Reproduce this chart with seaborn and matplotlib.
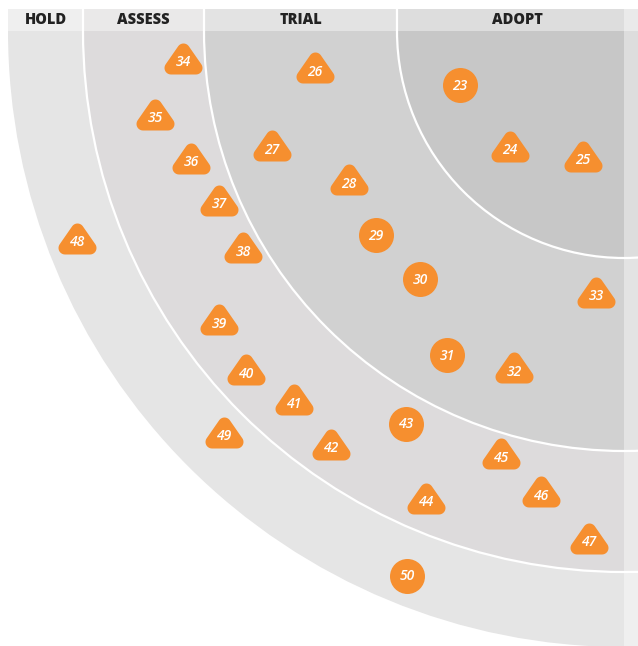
import matplotlib
matplotlib.use("Agg")
import matplotlib.pyplot as plt
import seaborn as sns
import pandas as pd
import numpy as np
from matplotlib.patches import Circle, Rectangle
from matplotlib.path import Path
from matplotlib.markers import MarkerStyle

sns.set_theme(style="white")
plt.rcParams['font.family'] = ['Open Sans', 'DejaVu Sans']

# ---- data ----
ring_names = ["HOLD", "ASSESS", "TRIAL", "ADOPT"]
ring_radii = [616, 541, 420, 227]
ring_colors = ["#e5e5e5", "#dddbdc", "#d1d1d1", "#c7c7c7"]

blip_ids = list(range(23, 51))
blip_x = [460, 510, 583, 315, 272, 349, 376, 420, 447, 514, 596,
          183, 155, 191, 219, 243, 219, 246, 294, 331, 406, 426, 501, 541, 589,
          77, 224, 407]
blip_y = [85, 146, 156, 67, 145, 179, 235, 279, 355, 367, 292,
          58, 114, 158, 200, 247, 319, 369, 399, 444, 424, 498, 453, 491, 538,
          238, 432, 576]
blip_shape = ["circle", "triangle", "triangle", "triangle", "triangle", "triangle",
              "circle", "circle", "circle", "triangle", "triangle",
              "triangle", "triangle", "triangle", "triangle", "triangle", "triangle",
              "triangle", "triangle", "triangle", "circle", "triangle", "triangle",
              "triangle", "triangle", "triangle", "triangle", "circle"]

df = pd.DataFrame({"id": blip_ids, "x": blip_x, "y": blip_y, "shape": blip_shape})

# ---- figure ----
W, H = 638, 646
CX, CY = 624, 31
HEAD_TOP = 9
fig = plt.figure(figsize=(W / 100, H / 100), dpi=100)
ax = fig.add_axes([0, 0, 1, 1])
ax.set_xlim(0, W)
ax.set_ylim(H, 0)
ax.axis("off")

clip = Rectangle((0, CY), W, H, transform=ax.transData, facecolor="none")
for i, (r, c) in enumerate(zip(ring_radii, ring_colors)):
    circ = Circle((CX, CY), r, facecolor=c,
                  edgecolor="white" if i > 0 else c,
                  linewidth=1.6 if i > 0 else 0, zorder=1 + i)
    ax.add_patch(circ)
    circ.set_clip_path(clip)

# header columns
edges = [CX - r for r in ring_radii] + [W]
for i in range(4):
    x0, x1 = edges[i], edges[i + 1]
    ax.add_patch(Rectangle((x0, HEAD_TOP), x1 - x0, CY - HEAD_TOP,
                           facecolor=ring_colors[i], edgecolor="none", zorder=6))
    ax.text((x0 + x1) / 2, (HEAD_TOP + CY) / 2 + 0.5, ring_names[i],
            ha="center", va="center", fontsize=10.5, fontweight="heavy",
            color="#222222", zorder=9)
ax.add_patch(Rectangle((edges[0], HEAD_TOP), W - edges[0], CY - HEAD_TOP,
                       facecolor="white", alpha=0.4, edgecolor="none", zorder=7))
for xe in edges[1:4]:
    ax.plot([xe, xe], [HEAD_TOP, CY], color="white", lw=1.6, zorder=8)
# right strip overlay
ax.add_patch(Rectangle((CX, HEAD_TOP), W - CX, H, facecolor="white",
                       alpha=0.4, edgecolor="none", zorder=7))


def rounded_triangle(core, rad, n=12):
    pts = []
    k = len(core)
    for i in range(k):
        p_prev, p, p_next = np.array(core[i - 1]), np.array(core[i]), np.array(core[(i + 1) % k])
        d1 = p - p_prev
        d2 = p_next - p
        a1 = np.arctan2(-d1[0], d1[1])
        a2 = np.arctan2(-d2[0], d2[1])
        if a2 < a1:
            a2 += 2 * np.pi
        for a in np.linspace(a1, a2, n):
            pts.append((p[0] + rad * np.cos(a), p[1] + rad * np.sin(a)))
    pts.append(pts[0])
    codes = [Path.MOVETO] + [Path.LINETO] * (len(pts) - 2) + [Path.CLOSEPOLY]
    return Path(pts, codes)


orange = "#f68f2f"
tri_path = rounded_triangle([(-12.5, -9.5), (12.5, -9.5), (0, 8.5)], 6.5)
tri_marker = MarkerStyle(tri_path)

circ_df = df[df["shape"] == "circle"]
tri_df = df[df["shape"] == "triangle"]

sns.scatterplot(data=circ_df, x="x", y="y", marker="o", s=(35 * 0.72) ** 2,
                color=orange, linewidth=0, ax=ax, zorder=10, legend=False)
sns.scatterplot(data=tri_df, x="x", y="y", marker=tri_marker, s=(38 * 0.72) ** 2,
                color=orange, linewidth=0, ax=ax, zorder=10, legend=False)

for _, row in df.iterrows():
    dy = 4.5 if row["shape"] == "triangle" else 0.5
    ax.text(row["x"], row["y"] + dy, str(row["id"]), ha="center", va="center",
            fontsize=10, fontstyle="italic", fontweight="semibold",
            color="white", zorder=11)

ax.set_xlim(0, W)
ax.set_ylim(H, 0)
fig.savefig("out.png", dpi=100)
